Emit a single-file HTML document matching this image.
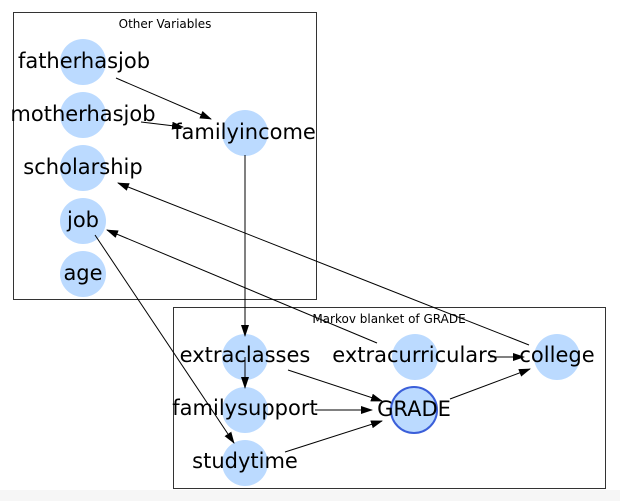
<!DOCTYPE html>
<html><head><meta charset="utf-8"><style>
html,body{margin:0;padding:0;background:#fff;}
svg{display:block;}
text{font-family:"DejaVu Sans","Liberation Sans",sans-serif;}
</style></head><body>
<svg width="620" height="501" viewBox="0 0 620 501" xmlns="http://www.w3.org/2000/svg">
<defs><marker id="a" markerWidth="12" markerHeight="8" refX="11" refY="4" orient="auto" markerUnits="userSpaceOnUse"><path d="M0,0 L12,4 L0,8 z" fill="#000"/></marker></defs>
<rect x="0" y="490" width="620" height="11" fill="#f6f6f6"/>
<rect x="13.5" y="12.5" width="303" height="287" fill="none" stroke="#333" stroke-width="1"/>
<rect x="173.5" y="307.5" width="432" height="181" fill="none" stroke="#333" stroke-width="1"/>
<text x="165" y="28" font-size="12" text-anchor="middle">Other Variables</text>
<text x="389" y="323" font-size="12" text-anchor="middle">Markov blanket of GRADE</text>
<g fill="#bbdaff">
<circle cx="83" cy="62" r="23"/><circle cx="83" cy="115" r="23"/><circle cx="83" cy="168" r="23"/>
<circle cx="83" cy="221" r="23"/><circle cx="83" cy="274" r="23"/><circle cx="245" cy="133" r="23"/>
<circle cx="245" cy="357" r="23"/><circle cx="245" cy="410" r="23"/><circle cx="245" cy="463" r="23"/>
<circle cx="415" cy="357" r="23"/><circle cx="557" cy="357" r="23"/>
<circle cx="414" cy="410" r="23" stroke="#3b5fd9" stroke-width="2"/>
</g>
<g stroke="#000" stroke-width="1" fill="none" marker-end="url(#a)">
<line x1="116" y1="78" x2="211" y2="119"/>
<line x1="141" y1="122" x2="183" y2="127"/>
<line x1="245" y1="155" x2="245" y2="336"/>
<line x1="245" y1="357" x2="245" y2="388"/>
<line x1="95" y1="235" x2="234" y2="443"/>
<line x1="377" y1="343" x2="107" y2="230"/>
<line x1="529" y1="345" x2="118" y2="183"/>
<line x1="288" y1="370" x2="382" y2="401"/>
<line x1="315" y1="410" x2="372" y2="410"/>
<line x1="285" y1="452" x2="382" y2="421"/>
<line x1="490" y1="357" x2="524" y2="357"/>
<line x1="450" y1="399" x2="530" y2="369"/>
</g>
<g font-size="21" text-anchor="middle" fill="#000">
<text x="84" y="68">fatherhasjob</text>
<text x="83" y="121">motherhasjob</text>
<text x="83" y="174">scholarship</text>
<text x="83" y="227">job</text>
<text x="83" y="280">age</text>
<text x="245" y="139">familyincome</text>
<text x="245" y="362">extraclasses</text>
<text x="245" y="415">familysupport</text>
<text x="245" y="468">studytime</text>
<text x="415" y="362">extracurriculars</text>
<text x="557" y="362">college</text>
<text x="414" y="416">GRADE</text>
</g>
</svg>
</body></html>
